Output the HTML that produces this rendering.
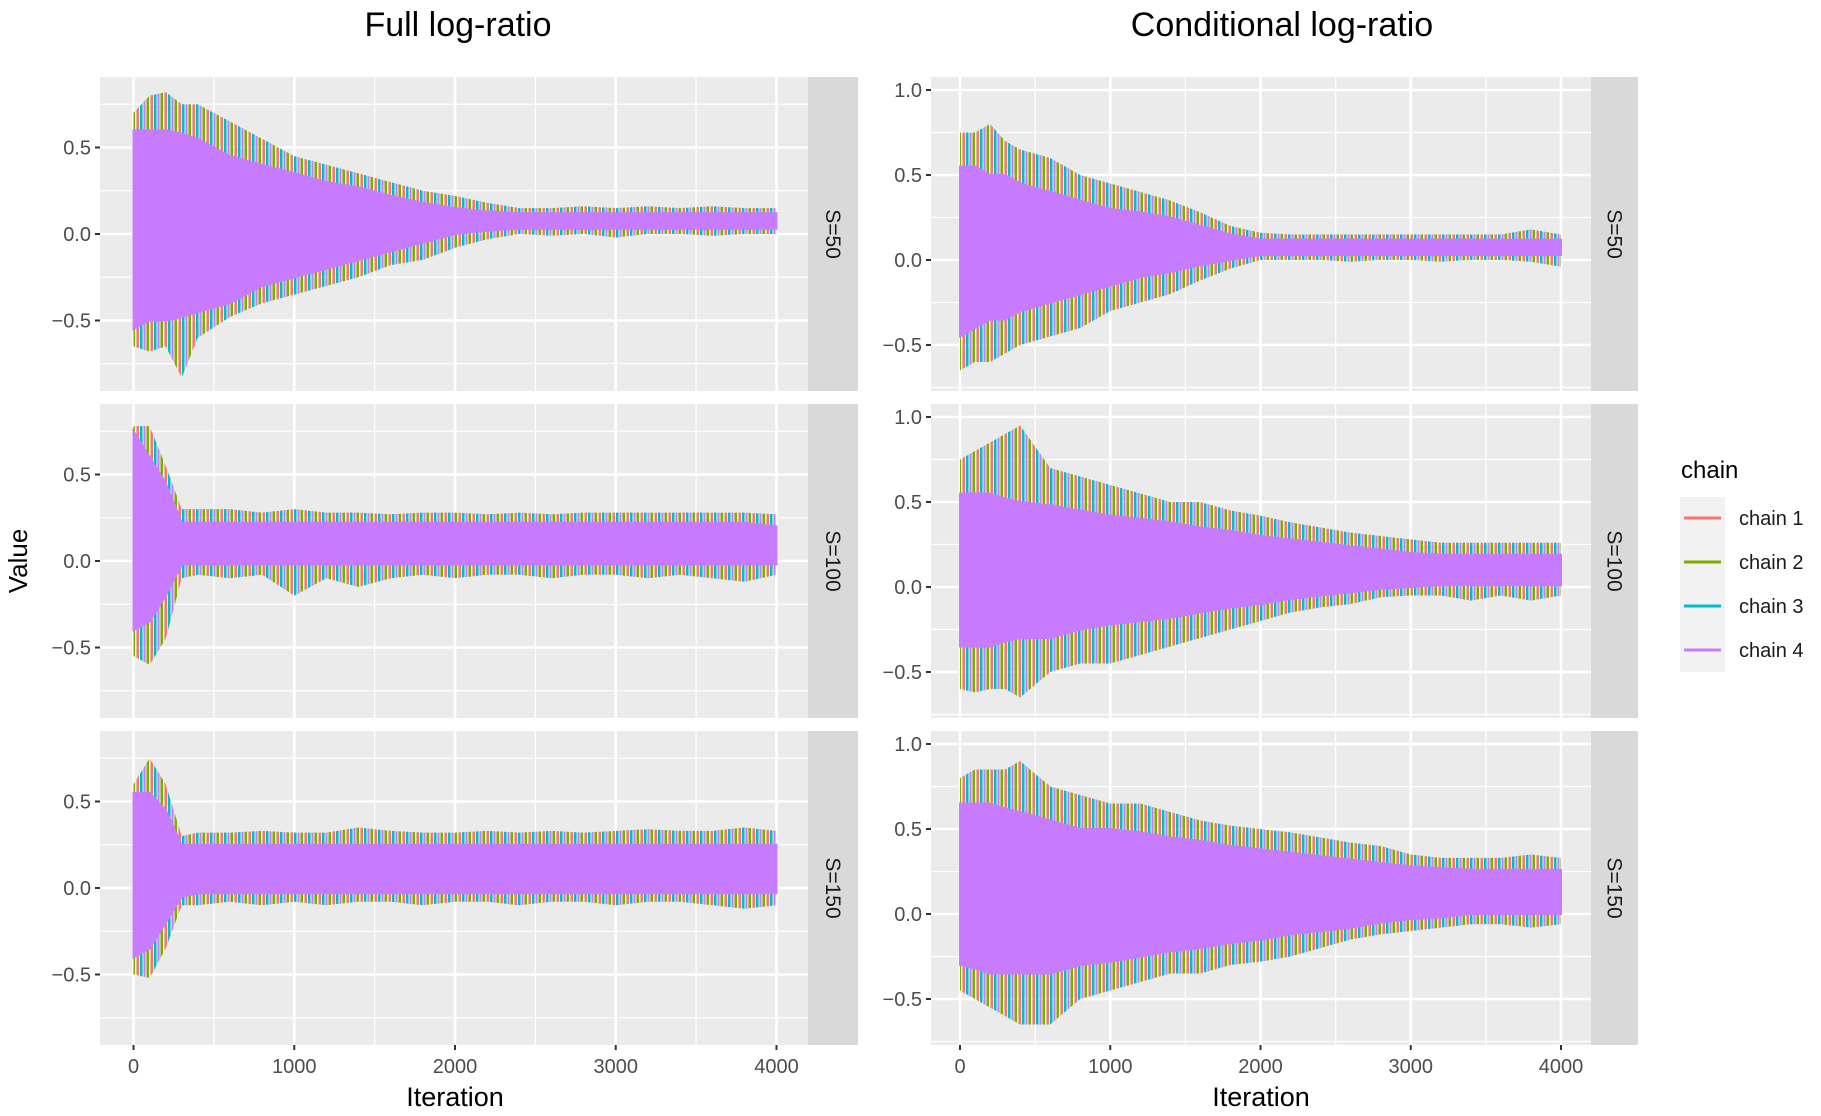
<!DOCTYPE html>
<html><head><meta charset="utf-8"><style>
html,body{margin:0;padding:0;background:#fff;}
svg{display:block;font-family:"Liberation Sans",sans-serif;}
</style></head><body>
<svg id="chart" width="1821" height="1116" viewBox="0 0 1821 1116" xmlns="http://www.w3.org/2000/svg">
<defs>
<pattern id="chainStripes" patternUnits="userSpaceOnUse" width="14" height="10">
<rect x="0" y="0" width="2.5" height="10" fill="#00BFC4"/>
<rect x="3.5" y="0" width="2" height="10" fill="#C77CFF"/>
<rect x="6.5" y="0" width="2.5" height="10" fill="#7CAE00"/>
<rect x="10.5" y="0" width="2.5" height="10" fill="#F8766D"/>
</pattern>
</defs>
<text x="458" y="36" font-size="34" text-anchor="middle" fill="#000">Full log-ratio</text>
<text x="1282" y="36" font-size="34" text-anchor="middle" fill="#000">Conditional log-ratio</text>
<text transform="translate(27,561) rotate(-90)" font-size="26" text-anchor="middle" fill="#000">Value</text>
<text x="455" y="1106" font-size="27" text-anchor="middle" fill="#000">Iteration</text>
<text x="1261" y="1106" font-size="27" text-anchor="middle" fill="#000">Iteration</text>
<g id="panels"></g>
<g>
<text x="1681" y="478" font-size="24" fill="#000">chain</text>
<rect x="1680" y="497" width="45" height="175" fill="#F2F2F2"/>
<line x1="1684" x2="1721" y1="518" y2="518" stroke="#F8766D" stroke-width="3"/>
<line x1="1684" x2="1721" y1="562" y2="562" stroke="#7CAE00" stroke-width="3"/>
<line x1="1684" x2="1721" y1="606" y2="606" stroke="#00BFC4" stroke-width="3"/>
<line x1="1684" x2="1721" y1="650" y2="650" stroke="#C77CFF" stroke-width="3"/>
<text x="1739" y="525" font-size="20" fill="#1a1a1a">chain 1</text>
<text x="1739" y="569" font-size="20" fill="#1a1a1a">chain 2</text>
<text x="1739" y="613" font-size="20" fill="#1a1a1a">chain 3</text>
<text x="1739" y="657" font-size="20" fill="#1a1a1a">chain 4</text>
</g>
</svg>
<script>
const iters = [0,100,200,300,400,600,800,1000,1200,1400,1600,1800,2000,2200,2400,2600,2800,3000,3200,3400,3600,3800,4000];
const xTicks = [0,1000,2000,3000,4000];
const xTickLabels = ["0","1000","2000","3000","4000"];
const yTicksLeft = [-0.5,0,0.5];
const yTickLabelsLeft = ["\u22120.5","0.0","0.5"];
const yTicksRight = [-0.5,0,0.5,1.0];
const yTickLabelsRight = ["\u22120.5","0.0","0.5","1.0"];
const stripLabels = ["S=50","S=100","S=150"];

// Full log-ratio S=50
const fullS50CoreHi = [0.6,0.6,0.6,0.58,0.55,0.45,0.4,0.35,0.3,0.27,0.22,0.18,0.15,0.13,0.12,0.12,0.12,0.12,0.12,0.12,0.12,0.12,0.12];
const fullS50CoreLo = [-0.55,-0.5,-0.5,-0.48,-0.45,-0.4,-0.3,-0.25,-0.2,-0.15,-0.1,-0.05,0,0.02,0.03,0.03,0.03,0.03,0.03,0.03,0.03,0.03,0.03];
const fullS50OuterHi = [0.7,0.8,0.82,0.75,0.75,0.65,0.55,0.45,0.4,0.35,0.3,0.25,0.22,0.18,0.15,0.15,0.16,0.15,0.16,0.15,0.16,0.15,0.15];
const fullS50OuterLo = [-0.65,-0.68,-0.65,-0.83,-0.6,-0.48,-0.4,-0.35,-0.3,-0.25,-0.18,-0.15,-0.08,-0.03,0,-0.01,0,-0.02,0,0,-0.01,0,0];
// Full log-ratio S=100
const fullS100CoreHi = [0.75,0.6,0.45,0.22,0.22,0.22,0.22,0.22,0.22,0.22,0.22,0.22,0.22,0.22,0.22,0.22,0.22,0.22,0.22,0.22,0.22,0.22,0.2];
const fullS100CoreLo = [-0.4,-0.35,-0.2,-0.02,-0.02,-0.02,-0.02,-0.02,-0.02,-0.02,-0.02,-0.02,-0.02,-0.02,-0.02,-0.02,-0.02,-0.02,-0.02,-0.02,-0.02,-0.02,-0.02];
const fullS100OuterHi = [0.78,0.78,0.55,0.3,0.3,0.3,0.28,0.3,0.28,0.28,0.27,0.28,0.28,0.27,0.28,0.27,0.28,0.28,0.28,0.28,0.28,0.28,0.27];
const fullS100OuterLo = [-0.55,-0.6,-0.45,-0.1,-0.08,-0.1,-0.08,-0.2,-0.1,-0.15,-0.1,-0.08,-0.1,-0.08,-0.08,-0.1,-0.08,-0.08,-0.1,-0.08,-0.1,-0.12,-0.08];
// Full log-ratio S=150
const fullS150CoreHi = [0.55,0.55,0.45,0.25,0.25,0.25,0.25,0.25,0.25,0.25,0.25,0.25,0.25,0.25,0.25,0.25,0.25,0.25,0.25,0.25,0.25,0.25,0.25];
const fullS150CoreLo = [-0.4,-0.35,-0.2,-0.05,-0.03,-0.03,-0.03,-0.03,-0.03,-0.03,-0.03,-0.03,-0.03,-0.03,-0.03,-0.03,-0.03,-0.03,-0.03,-0.03,-0.03,-0.03,-0.03];
const fullS150OuterHi = [0.6,0.75,0.6,0.3,0.32,0.32,0.33,0.32,0.32,0.35,0.33,0.32,0.32,0.33,0.32,0.33,0.32,0.33,0.34,0.33,0.33,0.35,0.33];
const fullS150OuterLo = [-0.5,-0.52,-0.35,-0.1,-0.1,-0.08,-0.1,-0.08,-0.1,-0.08,-0.08,-0.1,-0.08,-0.08,-0.1,-0.08,-0.08,-0.1,-0.08,-0.08,-0.1,-0.12,-0.1];
// Conditional log-ratio S=50
const condS50CoreHi = [0.55,0.55,0.5,0.5,0.45,0.4,0.35,0.3,0.28,0.25,0.2,0.15,0.12,0.12,0.12,0.12,0.12,0.12,0.12,0.12,0.12,0.12,0.12];
const condS50CoreLo = [-0.45,-0.4,-0.35,-0.35,-0.3,-0.25,-0.2,-0.15,-0.1,-0.07,-0.03,0,0.03,0.03,0.03,0.03,0.03,0.03,0.03,0.03,0.03,0.03,0.03];
const condS50OuterHi = [0.75,0.75,0.8,0.7,0.65,0.6,0.5,0.45,0.4,0.35,0.28,0.2,0.16,0.15,0.15,0.15,0.15,0.15,0.15,0.15,0.15,0.18,0.15];
const condS50OuterLo = [-0.65,-0.6,-0.6,-0.55,-0.5,-0.45,-0.4,-0.3,-0.25,-0.2,-0.12,-0.05,0,0,0,-0.01,0,0,-0.01,0,0,-0.01,-0.04];
// Conditional log-ratio S=100
const condS100CoreHi = [0.55,0.55,0.55,0.52,0.5,0.48,0.45,0.42,0.4,0.38,0.35,0.33,0.3,0.28,0.26,0.24,0.22,0.2,0.19,0.19,0.19,0.19,0.19];
const condS100CoreLo = [-0.35,-0.35,-0.35,-0.32,-0.3,-0.3,-0.25,-0.22,-0.2,-0.18,-0.15,-0.12,-0.1,-0.07,-0.05,-0.03,-0.01,0,0.01,0.01,0.01,0.01,0.01];
const condS100OuterHi = [0.75,0.8,0.85,0.9,0.95,0.7,0.65,0.6,0.55,0.5,0.5,0.45,0.42,0.38,0.35,0.32,0.3,0.28,0.26,0.26,0.26,0.26,0.26];
const condS100OuterLo = [-0.6,-0.62,-0.6,-0.6,-0.65,-0.5,-0.45,-0.45,-0.4,-0.35,-0.3,-0.25,-0.2,-0.15,-0.12,-0.1,-0.06,-0.05,-0.05,-0.08,-0.05,-0.08,-0.05];
// Conditional log-ratio S=150
const condS150CoreHi = [0.65,0.65,0.65,0.62,0.6,0.55,0.5,0.5,0.48,0.45,0.43,0.4,0.38,0.36,0.34,0.32,0.3,0.28,0.27,0.26,0.26,0.26,0.26];
const condS150CoreLo = [-0.3,-0.32,-0.35,-0.35,-0.35,-0.35,-0.3,-0.28,-0.25,-0.22,-0.2,-0.17,-0.15,-0.12,-0.1,-0.08,-0.05,-0.03,-0.02,0,0,0,0];
const condS150OuterHi = [0.8,0.85,0.85,0.85,0.9,0.75,0.7,0.65,0.65,0.6,0.55,0.52,0.5,0.48,0.45,0.42,0.4,0.35,0.33,0.33,0.33,0.35,0.33];
const condS150OuterLo = [-0.45,-0.5,-0.55,-0.6,-0.65,-0.65,-0.5,-0.45,-0.4,-0.35,-0.35,-0.3,-0.28,-0.25,-0.2,-0.15,-0.12,-0.1,-0.08,-0.06,-0.06,-0.08,-0.06];

const NS = "http://www.w3.org/2000/svg";
const root = document.getElementById("panels");
function mk(tag, attrs, parent){
  const e = document.createElementNS(NS, tag);
  for (const k in attrs) e.setAttribute(k, attrs[k]);
  parent.appendChild(e);
  return e;
}
const rowsTop = [77, 404, 731];
const rowH = 314;
const cols = [
  {key:"full", left:100, right:808, stripW:50, x0:133.5, x4000:776.5, yZero:157, yPerUnit:173, yTicks:yTicksLeft, yLabels:yTickLabelsLeft, yMinor:[-0.75,-0.25,0.25,0.75]},
  {key:"cond", left:931, right:1591, stripW:47, x0:960, x4000:1561, yZero:183, yPerUnit:170, yTicks:yTicksRight, yLabels:yTickLabelsRight, yMinor:[-0.75,-0.25,0.25,0.75]}
];
const seriesByPanel = {
  full:[[fullS50CoreHi,fullS50CoreLo,fullS50OuterHi,fullS50OuterLo],[fullS100CoreHi,fullS100CoreLo,fullS100OuterHi,fullS100OuterLo],[fullS150CoreHi,fullS150CoreLo,fullS150OuterHi,fullS150OuterLo]],
  cond:[[condS50CoreHi,condS50CoreLo,condS50OuterHi,condS50OuterLo],[condS100CoreHi,condS100CoreLo,condS100OuterHi,condS100OuterLo],[condS150CoreHi,condS150CoreLo,condS150OuterHi,condS150OuterLo]]
};
cols.forEach((c, ci) => {
  const xs = v => c.x0 + (v/4000)*(c.x4000 - c.x0);
  rowsTop.forEach((top, ri) => {
    const ys = v => top + c.yZero - v*c.yPerUnit;
    const g = mk("g", {}, root);
    
    
    const bg = mk("rect", {x:c.left, y:top, width:c.right-c.left, height:rowH, fill:"#EBEBEB"}, g);
    
    
    c.yMinor.forEach(v => {
      const y = ys(v);
      if (y > top && y < top+rowH) {
        const l = mk("line", {x1:c.left, x2:c.right, y1:y, y2:y, stroke:"#fff", "stroke-width":1.3}, g);
        
        
      }
    });
    [500,1500,2500,3500].forEach(v => {
      const l = mk("line", {x1:xs(v), x2:xs(v), y1:top, y2:top+rowH, stroke:"#fff", "stroke-width":1.3}, g);
      
      
    });
    c.yTicks.forEach(v => {
      const y = ys(v);
      const l = mk("line", {x1:c.left, x2:c.right, y1:y, y2:y, stroke:"#fff", "stroke-width":2.6}, g);
      
      
    });
    xTicks.forEach(v => {
      const l = mk("line", {x1:xs(v), x2:xs(v), y1:top, y2:top+rowH, stroke:"#fff", "stroke-width":2.6}, g);
      
      
    });
    const [coreHi, coreLo, outHi, outLo] = seriesByPanel[c.key][ri];
    const poly = (hi, lo) => {
      const pts = [];
      for (let i=0;i<iters.length;i++) pts.push(xs(iters[i]).toFixed(1)+","+ys(hi[i]).toFixed(1));
      for (let i=iters.length-1;i>=0;i--) pts.push(xs(iters[i]).toFixed(1)+","+ys(lo[i]).toFixed(1));
      return pts.join(" ");
    };
    const outer = mk("polygon", {points:poly(outHi,outLo), fill:"url(#chainStripes)"}, g);
    
    
    const core = mk("polygon", {points:poly(coreHi,coreLo), fill:"#C77CFF", stroke:"#C77CFF", "stroke-width":2}, g);
    
    
    c.yTicks.forEach((v, k) => {
      const y = ys(v);
      const t = mk("line", {x1:c.left-5, x2:c.left, y1:y, y2:y, stroke:"#333", "stroke-width":2}, g);
      
      
      const tx = mk("text", {x:c.left-9, y:y+7, "font-size":20, "text-anchor":"end", fill:"#4d4d4d"}, g);
      tx.textContent = c.yLabels[k];
      
      
    });
    const sx = c.right;
    const st = mk("rect", {x:sx, y:top, width:c.stripW, height:rowH, fill:"#D9D9D9"}, g);
    
    
    const stx = mk("text", {transform:"translate("+(sx+c.stripW/2-7)+","+(top+rowH/2)+") rotate(90)", "font-size":21, "text-anchor":"middle", fill:"#1a1a1a"}, g);
    stx.textContent = stripLabels[ri];
    
    
    if (ri === 2) {
      xTicks.forEach((v, k) => {
        const x = xs(v);
        const t = mk("line", {x1:x, x2:x, y1:top+rowH, y2:top+rowH+5, stroke:"#333", "stroke-width":2}, g);
        
        
        const tx = mk("text", {x:x, y:top+rowH+28, "font-size":20, "text-anchor":"middle", fill:"#4d4d4d"}, g);
        tx.textContent = xTickLabels[k];
        
        
      });
    }
  });
});
</script>
</body></html>
